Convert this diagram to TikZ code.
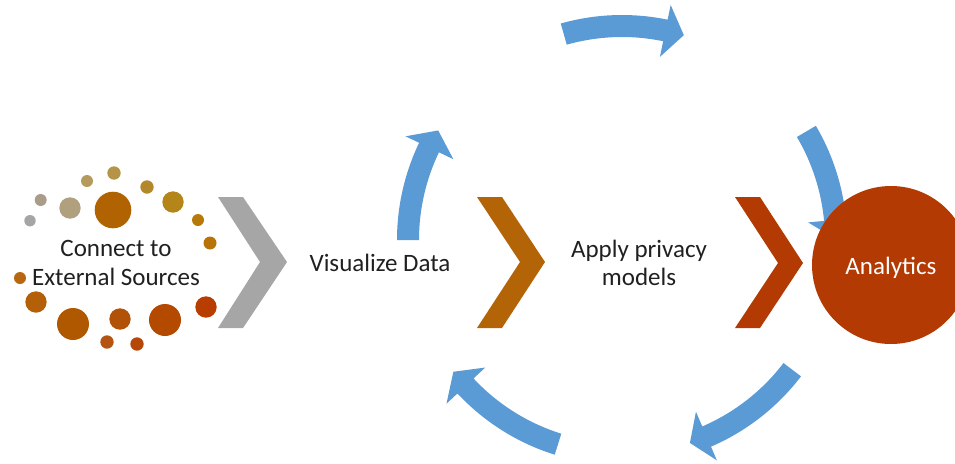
\documentclass[tikz,border=0pt]{standalone}
\usepackage{fontspec}
\setmainfont{Carlito}
\definecolor{arrowblue}{HTML}{5B9BD5}
\definecolor{chevgray}{HTML}{A6A6A6}
\definecolor{chevbrown}{HTML}{B36407}
\definecolor{chevred}{HTML}{B33A02}
\definecolor{txtgray}{HTML}{202020}
\definecolor{da}{HTML}{A5A5A5}
\definecolor{db}{HTML}{A99C88}
\definecolor{dc}{HTML}{B0A07E}
\definecolor{dd}{HTML}{B49A5C}
\definecolor{de}{HTML}{B59447}
\definecolor{df}{HTML}{B06300}
\definecolor{dg}{HTML}{B3882A}
\definecolor{dh}{HTML}{B4861A}
\definecolor{di}{HTML}{B77A0A}
\definecolor{dj}{HTML}{B77308}
\definecolor{dk}{HTML}{B86610}
\definecolor{dl}{HTML}{B36008}
\definecolor{dm}{HTML}{B05800}
\definecolor{dn}{HTML}{B15208}
\definecolor{do}{HTML}{B44A00}
\definecolor{dp}{HTML}{B83E00}
\definecolor{dq}{HTML}{B45410}
\definecolor{dr}{HTML}{B54808}
\begin{document}
\begin{tikzpicture}[x=1pt,y=-1pt,
  txt/.style={font=\fontsize{25}{28.5}\selectfont, text=txtgray, align=center, inner sep=0pt},
  cyclearrow/.style={fill=arrowblue}]
\useasboundingbox (0,0) rectangle (955,463);
\clip (0,0) rectangle (955,463);
% dots
\foreach \px/\py/\rr/\cc in {30/220.7/5.7/da, 40.7/200/6/db, 70/208/10.7/dc, 87/181/6/dd,
  114/173/6.7/de, 113/210/18.3/df, 147/187/6.7/dg, 173/202/10.7/dh, 198/220/6/di,
  210/243/6.5/dj, 20/278/6/dk, 36/302/10.7/dl, 73/324/16/dm, 120/319/10.7/dn,
  165/320/16/do, 206/307/10.7/dp, 107/342/6.7/dq, 137/344/6.7/dr}
  \fill[\cc] (\px,\py) circle[radius=\rr];
% chevrons
\fill[chevgray] (218,197) -- (243,197) -- (287,262) -- (243,328) -- (218,328) -- (260,262) -- cycle;
\fill[chevbrown] (477,197) -- (502,197) -- (545,262) -- (502,328) -- (477,328) -- (520,262) -- cycle;
\fill[chevred] (735,197) -- (760,197) -- (803,263) -- (760,328) -- (735,328) -- (778,263) -- cycle;
% cycle arrows
\begin{scope}[shift={(622,240)}]
\foreach \ta/\ba/\pa in {180/205.6/210.8, 254.2/281.7/286.8, 329.5/354.6/359.8, 37.3/66.7/71.5, 107.4/137/142}
  \fill[cyclearrow] (\ta:203) arc[start angle=\ta, end angle=\ba, radius=203]
    -- (\ba:187) -- (\pa:214) -- (\ba:240) -- (\ba:225)
    arc[start angle=\ba, end angle=\ta, radius=225] -- cycle;
\end{scope}
% texts
\node[txt] (src) at (116,263) {Connect to\\External Sources};
\node[txt] (vis) at (380,263) {Visualize Data};
\node[txt] (priv) at (639,263) {Apply privacy\\models};
\node[circle, fill=chevred, minimum size=158pt, inner sep=0pt] (ana) at (891,265) {};
\node[txt, text=white] (analbl) at (891,268) {Analytics};
\end{tikzpicture}
\end{document}
